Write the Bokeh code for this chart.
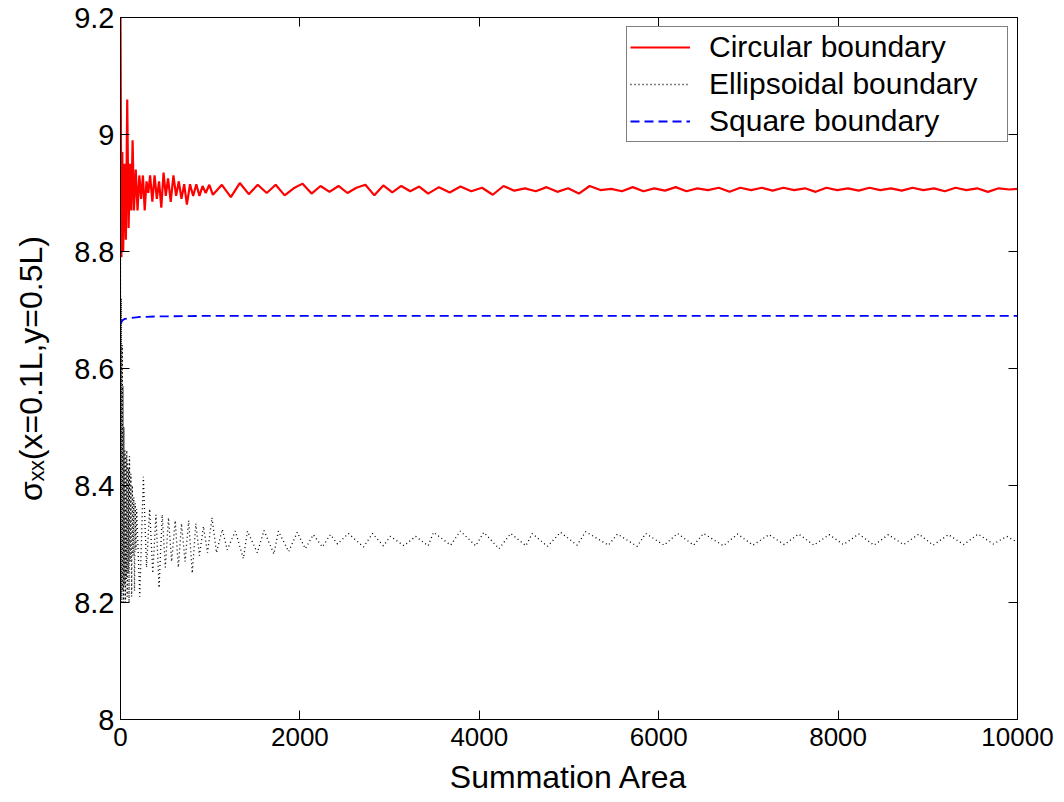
from bokeh.plotting import figure
from bokeh.models import Range1d, LinearAxis, FixedTicker, Legend, LegendItem
from bokeh.embed import file_html
from bokeh.resources import INLINE

# ---------------- data ----------------
circ_x = [0, 10, 20, 30, 45, 60, 75, 90, 105, 120, 135, 150, 170, 190, 210, 230, 250, 270, 290, 310,
          330, 355, 380, 405, 430, 455, 480, 505, 530, 560, 590, 620, 650, 680, 710, 740, 775, 810, 845, 880,
          915, 950, 990,
          1030, 1130, 1230, 1330, 1430, 1530, 1630, 1730, 1830, 1930, 2030, 2130, 2230, 2330, 2430, 2530,
          2630, 2730, 2830, 2930, 3030, 3130, 3230, 3330, 3430,
          3550, 3670, 3790, 3910, 4030, 4150, 4270, 4390, 4510, 4630,
          4750, 4870, 4990, 5110, 5230, 5350, 5470, 5590, 5710, 5830,
          5950, 6070, 6190, 6310, 6430, 6550, 6670, 6790, 6910, 7030,
          7150, 7270, 7390, 7510, 7630, 7750, 7870, 7990, 8110, 8230,
          8350, 8470, 8590, 8710, 8830, 8950, 9070, 9190, 9310, 9430,
          9550, 9670, 9790, 9910, 10000]
circ_y = [9.20, 8.79, 8.97, 8.80, 8.95, 8.82, 9.06, 8.84, 8.95, 8.87, 8.99, 8.87, 8.94, 8.87, 8.93, 8.89, 8.93, 8.87, 8.92, 8.90,
          8.93, 8.885, 8.93, 8.89, 8.92, 8.875, 8.935, 8.895, 8.925, 8.885, 8.93, 8.895, 8.92, 8.89, 8.915, 8.88, 8.915, 8.895, 8.915, 8.895,
          8.912, 8.900, 8.914,
          8.897, 8.914, 8.893, 8.917, 8.898, 8.914, 8.900, 8.914, 8.896, 8.908, 8.916, 8.899, 8.912, 8.902, 8.912, 8.900,
          8.909, 8.914, 8.896, 8.913, 8.901, 8.912, 8.903, 8.911, 8.899,
          8.910, 8.901, 8.911, 8.903, 8.909, 8.897, 8.912, 8.904, 8.908, 8.903,
          8.910, 8.902, 8.908, 8.899, 8.912, 8.905, 8.907, 8.903, 8.910, 8.903,
          8.908, 8.904, 8.910, 8.903, 8.908, 8.905, 8.909, 8.902, 8.909, 8.905,
          8.909, 8.904, 8.909, 8.905, 8.908, 8.902, 8.909, 8.905, 8.908, 8.904,
          8.909, 8.905, 8.908, 8.904, 8.909, 8.905, 8.908, 8.903, 8.909, 8.905,
          8.908, 8.902, 8.908, 8.906, 8.907]

ell_x = [0, 5, 10, 15, 20, 25, 30, 35, 40, 45, 50, 55, 60, 65, 70, 75, 80, 85, 90, 95, 100,
         108, 116, 124, 132, 140, 148, 156, 164, 172, 180,
         215, 255, 290, 325, 360, 395, 430, 465, 500, 535, 570, 610, 645, 680, 720, 760, 800, 840, 880,
         925, 970, 1020, 1070, 1135, 1190, 1280, 1370, 1415, 1525, 1600, 1710, 1760, 1875, 1970,
         2060, 2150, 2250, 2340, 2420, 2540, 2710, 2810, 2930, 3010, 3160, 3290, 3430, 3490, 3680,
         3790, 3960, 4050, 4220, 4350, 4520, 4590, 4760, 4905, 5090, 5185, 5440, 5540, 5760, 5855,
         6060, 6210, 6390, 6500, 6720, 6880, 7050, 7230, 7400, 7560, 7730, 7900, 8060, 8230, 8400,
         8560, 8730, 8900, 9060, 9230, 9400, 9560, 9730, 9880, 10000]
ell_y = [8.80, 8.21, 8.72, 8.20, 8.64, 8.22, 8.57, 8.20, 8.50, 8.23, 8.46, 8.20, 8.45, 8.24, 8.46, 8.21, 8.44, 8.25, 8.43, 8.20, 8.45,
         8.27, 8.42, 8.21, 8.40, 8.28, 8.38, 8.22, 8.37, 8.29, 8.36,
         8.21, 8.415, 8.26, 8.36, 8.25, 8.35, 8.225, 8.35, 8.26, 8.345, 8.27, 8.34, 8.26, 8.335, 8.27, 8.34, 8.25, 8.335, 8.28,
         8.33, 8.285, 8.345, 8.285, 8.325, 8.29, 8.322, 8.275, 8.322, 8.285, 8.323, 8.283, 8.322, 8.287, 8.320,
         8.292, 8.316, 8.295, 8.316, 8.300, 8.318, 8.295, 8.318, 8.297, 8.313, 8.297, 8.313, 8.297, 8.320, 8.298,
         8.322, 8.297, 8.320, 8.292, 8.318, 8.297, 8.318, 8.296, 8.320, 8.298, 8.321, 8.298, 8.317, 8.296, 8.318,
         8.298, 8.318, 8.298, 8.318, 8.297, 8.317, 8.298, 8.316, 8.299, 8.317, 8.298, 8.316, 8.299, 8.317, 8.298,
         8.316, 8.299, 8.317, 8.298, 8.316, 8.299, 8.317, 8.300, 8.313, 8.303]

sq_x = [0, 20, 50, 100, 200, 400, 1000, 3000, 6000, 10000]
sq_y = [8.676, 8.682, 8.685, 8.686, 8.688, 8.689, 8.690, 8.690, 8.690, 8.690]

x_ticks = [0, 2000, 4000, 6000, 8000, 10000]
y_ticks = [8, 8.2, 8.4, 8.6, 8.8, 9, 9.2]
y_tick_labels = ["8", "8.2", "8.4", "8.6", "8.8", "9", "9.2"]
series_labels = ["Circular boundary", "Ellipsoidal boundary", "Square boundary"]

FONT = "Liberation Sans"

p = figure(frame_width=897, frame_height=702,
           x_range=Range1d(0, 10000), y_range=Range1d(8, 9.2),
           output_backend="svg", toolbar_location=None,
           min_border_left=120, min_border_top=17, min_border_right=40, min_border_bottom=72)
p.xgrid.visible = False
p.ygrid.visible = False
p.outline_line_color = "black"
p.outline_line_width = 1
p.background_fill_color = "white"
p.border_fill_color = "white"

r1 = p.line(circ_x, circ_y, line_color="#ff0000", line_width=2.2)
r2 = p.line(ell_x, ell_y, line_color="black", line_width=1.3, line_dash="1 3")
r3 = p.line(sq_x, sq_y, line_color="#0000ff", line_width=1.8, line_dash="9 5")

def style(ax):
    ax.major_tick_in = 9
    ax.major_tick_out = 0
    ax.minor_tick_line_color = None
    ax.axis_line_color = "black"
    ax.major_tick_line_color = "black"

xa = p.xaxis[0]
xa.ticker = FixedTicker(ticks=x_ticks)
style(xa)
xa.major_label_text_font = FONT
xa.major_label_text_font_size = "26px"
xa.major_label_text_color = "black"
xa.major_label_standoff = 8
xa.axis_label = "Summation Area"
xa.axis_label_text_font = FONT
xa.axis_label_text_font_size = "32px"
xa.axis_label_text_font_style = "normal"
xa.axis_label_text_color = "black"
xa.axis_label_standoff = 10

ya = p.yaxis[0]
ya.ticker = FixedTicker(ticks=y_ticks)
ya.major_label_overrides = {t: l for t, l in zip(y_ticks, y_tick_labels)}
style(ya)
ya.major_label_text_font = FONT
ya.major_label_text_font_size = "29px"
ya.major_label_text_color = "black"
ya.major_label_standoff = 6
ya.axis_label = "σₓₓ(x=0.1L,y=0.5L)"
ya.axis_label_text_font = FONT
ya.axis_label_text_font_size = "32px"
ya.axis_label_text_font_style = "normal"
ya.axis_label_text_color = "black"
ya.axis_label_standoff = 22

# box ticks on top and right (no labels)
top = LinearAxis(ticker=FixedTicker(ticks=x_ticks), major_label_overrides={t: "" for t in x_ticks},
                 major_label_standoff=0, major_label_text_font_size="1px")
style(top)
p.add_layout(top, "above")
right = LinearAxis(ticker=FixedTicker(ticks=y_ticks), major_label_overrides={t: "" for t in y_ticks},
                   major_label_standoff=0, major_label_text_font_size="1px")
style(right)
p.add_layout(right, "right")

legend = Legend(items=[LegendItem(label=series_labels[0], renderers=[r1]),
                       LegendItem(label=series_labels[1], renderers=[r2]),
                       LegendItem(label=series_labels[2], renderers=[r3])],
                location="top_right")
legend.label_text_font = FONT
legend.label_text_font_size = "30px"
legend.label_text_color = "black"
legend.glyph_width = 60
legend.glyph_height = 30
legend.label_height = 30
legend.label_width = 295
legend.label_standoff = 19
legend.padding = 3
legend.spacing = 3
legend.margin = 9
legend.border_line_color = "black"
legend.border_line_width = 1
legend.background_fill_color = "white"
legend.background_fill_alpha = 1
p.add_layout(legend, "center")

open("out.html", "w").write(file_html(p, INLINE))
